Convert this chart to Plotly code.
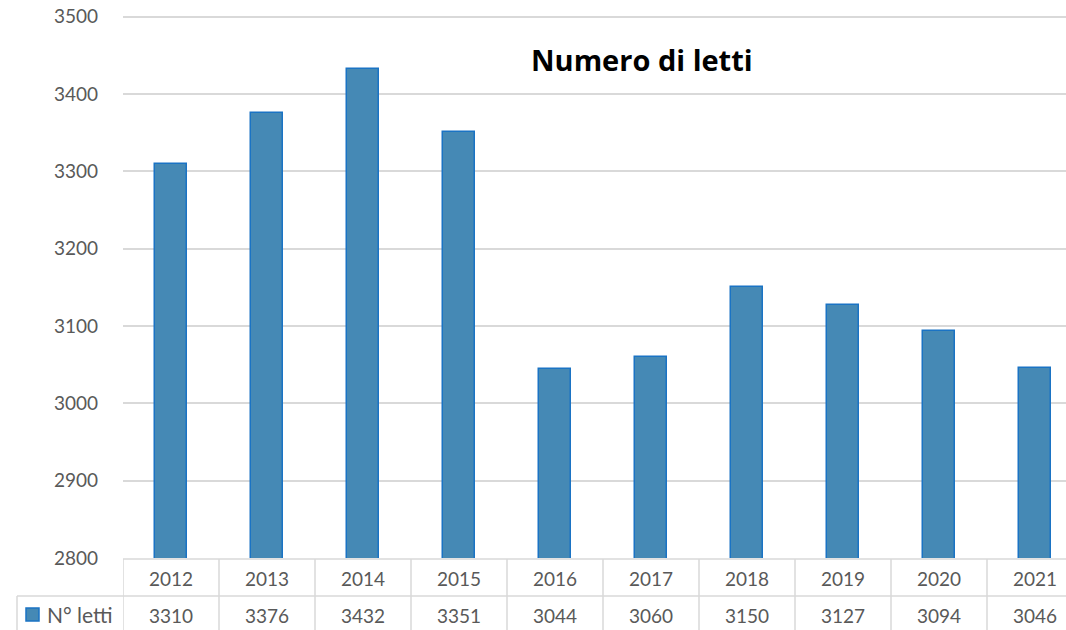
import plotly.graph_objects as go

years = ["2012", "2013", "2014", "2015", "2016", "2017", "2018", "2019", "2020", "2021"]
letti = [3310, 3376, 3432, 3351, 3044, 3060, 3150, 3127, 3094, 3046]
series_name = "N° letti"
title_text = "Numero di letti"
y_ticks = [2800, 2900, 3000, 3100, 3200, 3300, 3400, 3500]
y_range = [2800, 3510]

W, H = 1066, 630
ppu = (558 - 17) / 700.0          # pixels per unit on the value axis
plot_bottom = 558
mt = 17 - (y_range[1] - 3500) * ppu
ml = 123
mb = H - plot_bottom
plot_h = plot_bottom - mt
plot_w = W - ml


def py(p):
    return (plot_bottom - p) / plot_h


def px(p):
    return (p - ml) / plot_w


n = len(years)
xs = list(range(n))
x_max = -0.5 + plot_w / 96.0

grey = "#595959"
line_c = "#D9D9D9"
font_fam = "Lato, 'Open Sans', sans-serif"
fill_c = "#4589B5"
edge_c = "#1A73C4"

fig = go.Figure()
fig.add_trace(go.Bar(
    x=xs, y=letti, width=0.333,
    marker=dict(color=fill_c, line=dict(color=edge_c, width=1.5)),
    name=series_name, showlegend=False, hoverinfo="skip",
))

shapes = []
shapes.append(dict(type="line", xref="paper", yref="paper", x0=0, x1=1, y0=py(559), y1=py(559),
                   line=dict(color=line_c, width=1.5)))
shapes.append(dict(type="line", xref="paper", yref="paper", x0=px(17), x1=1, y0=py(596), y1=py(596),
                   line=dict(color=line_c, width=1.5)))
shapes.append(dict(type="line", xref="paper", yref="paper", x0=px(17), x1=px(17), y0=py(596), y1=py(640),
                   line=dict(color=line_c, width=1.5)))
for i in range(n + 1):
    shapes.append(dict(type="line", xref="x", yref="paper", x0=i - 0.5, x1=i - 0.5,
                       y0=py(559), y1=py(640), line=dict(color=line_c, width=1.5)))
shapes.append(dict(type="rect", xref="paper", yref="paper", x0=px(26), x1=px(39), y0=py(621), y1=py(608),
                   fillcolor=fill_c, line=dict(color=edge_c, width=1.5)))

annotations = []
for i, (yr, v) in enumerate(zip(years, letti)):
    annotations.append(dict(x=i, y=py(578), xref="x", yref="paper", text=yr, showarrow=False,
                            font=dict(family=font_fam, size=19, color=grey), yanchor="middle"))
    annotations.append(dict(x=i, y=py(615), xref="x", yref="paper", text=str(v), showarrow=False,
                            font=dict(family=font_fam, size=19, color=grey), yanchor="middle"))
annotations.append(dict(x=px(45), y=py(614), xref="paper", yref="paper", text=series_name, showarrow=False,
                        xanchor="left", yanchor="middle",
                        font=dict(family=font_fam, size=21, color=grey)))
annotations.append(dict(x=px(642), y=py(60), xref="paper", yref="paper", text="<b>" + title_text + "</b>",
                        showarrow=False, xanchor="center", yanchor="middle",
                        font=dict(family="'Open Sans', sans-serif", size=29, color="black")))

fig.update_layout(
    width=W, height=H,
    margin=dict(l=ml, r=0, t=mt, b=mb),
    paper_bgcolor="white", plot_bgcolor="white",
    xaxis=dict(range=[-0.5, x_max], showticklabels=False, showgrid=False, zeroline=False,
               showline=False, fixedrange=True),
    yaxis=dict(range=y_range, tickvals=y_ticks, showgrid=True, gridcolor=line_c, gridwidth=1.5,
               zeroline=False, showline=False, ticks="", ticklabelstandoff=24,
               tickfont=dict(family=font_fam, size=19, color=grey)),
    shapes=shapes, annotations=annotations,
    bargap=0,
)

fig.write_html("out.html", config={"displayModeBar": False},
               post_script="document.body.style.margin='0';document.body.style.overflow='hidden';")
